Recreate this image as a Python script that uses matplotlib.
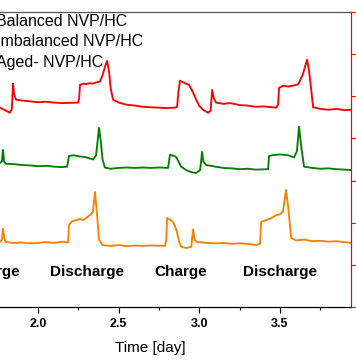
import matplotlib
matplotlib.use("Agg")
import matplotlib.pyplot as plt

plt.rcParams['font.family'] = ['Liberation Sans', 'DejaVu Sans']

# ---- data (time in days, signal in offset units) ----
red_t = [1.764, 1.79, 1.826, 1.838, 1.845, 1.852, 1.864, 1.90, 1.95, 2.00, 2.05, 2.10, 2.15,
         2.248, 2.255, 2.260, 2.28, 2.30, 2.32, 2.341, 2.36, 2.384, 2.40, 2.415, 2.428, 2.44,
         2.45, 2.465, 2.50, 2.55, 2.60, 2.65, 2.70, 2.75, 2.787, 2.85, 2.862, 2.870, 2.880,
         2.90, 2.936, 2.96, 2.98, 3.00, 3.023, 3.054, 3.070, 3.079, 3.09, 3.104, 3.15, 3.19,
         3.25, 3.30, 3.35, 3.40, 3.476, 3.488, 3.494, 3.52, 3.55, 3.587, 3.612, 3.64, 3.668,
         3.68, 3.695, 3.705, 3.75, 3.80, 3.85, 3.90, 3.94]
red_v = [4.73, 4.68, 4.61, 4.70, 5.30, 5.05, 4.92, 4.90, 4.88, 4.86, 4.87, 4.85, 4.84,
         4.85, 4.95, 5.27, 5.30, 5.29, 5.31, 5.30, 5.33, 5.35, 5.50, 5.70, 5.84, 5.60,
         5.20, 4.92, 4.85, 4.80, 4.78, 4.75, 4.74, 4.73, 4.72, 4.73, 4.75, 5.10, 5.37,
         5.33, 5.27, 5.10, 4.92, 4.77, 4.68, 4.61, 4.66, 5.15, 4.95, 4.85, 4.82, 4.84,
         4.79, 4.78, 4.75, 4.76, 4.73, 4.80, 5.20, 5.25, 5.23, 5.26, 5.28, 5.50, 5.87,
         5.60, 5.10, 4.74, 4.70, 4.68, 4.70, 4.67, 4.68]

green_t = [1.764, 1.776, 1.783, 1.79, 1.80, 1.85, 1.90, 1.95, 2.00, 2.05, 2.10, 2.15, 2.180,
           2.186, 2.192, 2.22, 2.25, 2.30, 2.341, 2.36, 2.378, 2.39, 2.40, 2.415, 2.45, 2.50,
           2.55, 2.60, 2.65, 2.70, 2.75, 2.806, 2.812, 2.818, 2.84, 2.856, 2.887, 2.918, 2.95,
           2.980, 3.005, 3.017, 3.025, 3.042, 3.10, 3.15, 3.20, 3.25, 3.30, 3.35, 3.426, 3.432,
           3.45, 3.50, 3.55, 3.587, 3.605, 3.618, 3.63, 3.649, 3.70, 3.75, 3.80, 3.85, 3.90, 3.94]
green_v = [3.42, 3.45, 3.73, 3.45, 3.40, 3.39, 3.37, 3.36, 3.34, 3.35, 3.33, 3.32, 3.33,
           3.45, 3.58, 3.60, 3.58, 3.55, 3.50, 3.60, 4.25, 3.90, 3.50, 3.31, 3.28, 3.30,
           3.31, 3.30, 3.31, 3.30, 3.31, 3.30, 3.45, 3.61, 3.59, 3.56, 3.33, 3.25, 3.20,
           3.18, 3.25, 3.68, 3.45, 3.37, 3.33, 3.30, 3.29, 3.27, 3.28, 3.26, 3.27, 3.58,
           3.60, 3.62, 3.60, 3.55, 3.70, 4.28, 3.85, 3.33, 3.30, 3.28, 3.29, 3.27, 3.26, 3.25]

orange_t = [1.764, 1.776, 1.783, 1.79, 1.80, 1.85, 1.90, 1.95, 2.00, 2.05, 2.10, 2.15, 2.186,
            2.192, 2.21, 2.26, 2.28, 2.30, 2.322, 2.34, 2.353, 2.36, 2.37, 2.378, 2.40, 2.45,
            2.50, 2.55, 2.60, 2.65, 2.70, 2.787, 2.795, 2.800, 2.82, 2.837, 2.86, 2.875, 2.887,
            2.918, 2.95, 2.961, 2.97, 2.986, 3.05, 3.10, 3.15, 3.20, 3.25, 3.30, 3.352, 3.376,
            3.383, 3.42, 3.45, 3.476, 3.50, 3.519, 3.537, 3.55, 3.569, 3.60, 3.65, 3.70, 3.75,
            3.80, 3.85, 3.90, 3.94]
orange_v = [1.55, 1.60, 1.86, 1.65, 1.54, 1.52, 1.53, 1.51, 1.52, 1.54, 1.52, 1.55, 1.53,
            1.95, 2.03, 2.09, 2.06, 2.12, 2.18, 2.25, 2.73, 2.45, 2.00, 1.60, 1.47, 1.45,
            1.47, 1.44, 1.46, 1.45, 1.46, 1.45, 1.60, 2.11, 2.07, 2.02, 1.80, 1.55, 1.43,
            1.40, 1.43, 1.84, 1.60, 1.54, 1.52, 1.51, 1.52, 1.50, 1.51, 1.50, 1.47, 1.50,
            2.02, 2.07, 2.12, 2.18, 2.20, 2.27, 2.78, 2.40, 1.64, 1.58, 1.60, 1.56, 1.57,
            1.55, 1.56, 1.54, 1.52]

series_names = ["Balanced NVP/HC", "Imbalanced NVP/HC", "Aged- NVP/HC"]
series_colors = ["#ff0000", "#008000", "#ff8000"]

phase_labels = ["Charge", "Discharge", "Charge", "Discharge"]
phase_t = [1.725, 2.301, 2.883, 3.503]
phase_y = 0.83

x_major = [2.0, 2.5, 3.0, 3.5]
x_minor = [1.75, 2.25, 2.75, 3.25, 3.75]
right_ticks = [0, 1, 2, 3, 4, 5, 6, 7]

# ---- figure ----
W, H = 356, 364
fig = plt.figure(figsize=(W / 100, H / 100), dpi=100)
left_px, right_px, top_px, bot_px = -10.39, 351, 12, 307
ax = fig.add_axes([left_px / W, 1 - bot_px / H, (right_px - left_px) / W, (bot_px - top_px) / H])

for t, v, c in zip([red_t, green_t, orange_t], [red_v, green_v, orange_v], series_colors):
    ax.plot(t, v, color=c, lw=1.35)

ax.set_xlim(1.70, 3.94)
ax.set_ylim(0, 7)

ax.set_xticks(x_major)
ax.set_xticklabels([f"{v:.1f}" for v in x_major], fontweight='bold', fontsize=9)
ax.set_xticks(x_minor, minor=True)
ax.tick_params(axis='x', which='major', direction='out', length=4, width=0.8, pad=4)
ax.tick_params(axis='x', which='minor', direction='out', length=2.5, width=0.8)

ax.yaxis.tick_right()
ax.set_yticks(right_ticks)
ax.tick_params(axis='y', which='both', direction='out', length=3.5, width=0.8,
               colors='#ff0000', labelright=False, labelleft=False)
ax.spines['right'].set_color('#ff0000')
ax.spines['top'].set_color('#555555')
ax.spines['bottom'].set_color('black')
for s in ax.spines.values():
    s.set_linewidth(0.9)

ax.set_xlabel("Time [day]", fontsize=11)
ax.xaxis.set_label_coords(150 / W, 1 - 348 / H, transform=fig.transFigure)
ax.xaxis.label.set_va('center')

for lab, t in zip(phase_labels, phase_t):
    ax.text(t, phase_y, lab, ha='center', va='center', fontsize=11, fontweight='bold')

for i, name in enumerate(series_names):
    fig.text(-4 / W, 1 - (22 + 20 * i) / H, name, ha='left', va='center', fontsize=11.5)

fig.savefig("out.png", dpi=100)
